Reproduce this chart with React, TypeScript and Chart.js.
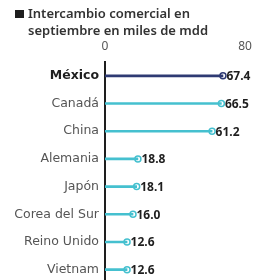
import React, { useEffect, useRef } from "react";
import { Chart, registerables } from "chart.js";

Chart.register(...registerables);

const countries = ["México", "Canadá", "China", "Alemania", "Japón", "Corea del Sur", "Reino Unido", "Vietnam"];
const values = [67.4, 66.5, 61.2, 18.8, 18.1, 16.0, 12.6, 12.6];
const axisTicks = [0, 80];
const titleLines = ["Intercambio comercial en", "septiembre en miles de mdd"];

const NAVY = "#2e3a73";
const CYAN = "#45c0cf";
const FONT = "'Noto Sans', sans-serif";
const LABEL_FONT = "'DejaVu Sans', sans-serif";

const valueLabels = {
  id: "valueLabels",
  afterDatasetsDraw(chart: any) {
    const meta = chart.getDatasetMeta(1);
    const ctx = chart.ctx;
    ctx.save();
    ctx.font = `bold 12px ${FONT}`;
    ctx.fillStyle = "#1e1e1e";
    ctx.textAlign = "left";
    ctx.textBaseline = "middle";
    meta.data.forEach((pt: any, i: number) => {
      ctx.fillText(values[i].toFixed(1), pt.x + 3.5, pt.y + 1);
    });
    ctx.restore();
  },
};

export default function App() {
  const ref = useRef<HTMLCanvasElement>(null);
  useEffect(() => {
    document.body.style.margin = "0";
    const colors = countries.map((_, i) => (i === 0 ? NAVY : CYAN));
    const chart = new Chart(ref.current!, {
      type: "bar",
      data: {
        labels: countries,
        datasets: [
          {
            type: "bar",
            data: values,
            backgroundColor: colors,
            borderWidth: 0,
            barThickness: 2,
          } as any,
          {
            type: "line",
            data: values,
            showLine: false,
            pointRadius: 3,
            pointBorderWidth: 1.5,
            pointBackgroundColor: "#ffffff",
            pointBorderColor: colors,
            pointStyle: "circle",
          } as any,
        ],
      },
      options: {
        indexAxis: "y",
        animation: false,
        responsive: false,
        maintainAspectRatio: false,
        layout: { padding: { top: 39, right: 10, left: 0, bottom: 0 } },
        plugins: { legend: { display: false }, tooltip: { enabled: false } },
        scales: {
          x: {
            position: "top",
            min: 0,
            max: 80,
            afterBuildTicks: (s: any) => {
              s.ticks = axisTicks.map((v) => ({ value: v }));
            },
            afterFit: (s: any) => {
              s.height = 23;
              s.paddingLeft = 0;
              s.paddingRight = 0;
            },
            grid: { display: false, drawTicks: false },
            border: { display: false },
            ticks: {
              padding: 8,
              color: "#555",
              font: { family: FONT, size: 12 },
            },
          },
          y: {
            afterFit: (s: any) => {
              s.width = 105;
              s.paddingTop = 0;
              s.paddingBottom = 0;
            },
            grid: { display: false, drawTicks: false },
            border: { display: true, color: "#1e1e1e", width: 2 },
            ticks: {
              padding: 6,
              color: (c: any) => (c.index === 0 ? "#1e1e1e" : "#555"),
              font: (c: any) => ({
                family: LABEL_FONT,
                size: 12.5,
                weight: c.index === 0 ? "bold" : "normal",
              }),
            },
          },
        },
      },
      plugins: [valueLabels],
    } as any);
    return () => chart.destroy();
  }, []);

  return (
    <div style={{ position: "relative", width: 255, height: 289, overflow: "hidden", background: "#fff" }}>
      <canvas ref={ref} width={255} height={289} style={{ position: "absolute", left: 0, top: 0 }} />
      <div
        style={{
          position: "absolute",
          left: 15,
          top: 5,
          fontFamily: FONT,
          fontSize: 13,
          fontWeight: 600,
          color: "#333",
          lineHeight: "17px",
        }}
      >
        <div style={{ display: "flex", alignItems: "center" }}>
          <span style={{ display: "inline-block", width: 9, height: 8, background: "#1e1e1e", marginRight: 4 }} />
          <span>{titleLines[0]}</span>
        </div>
        <div style={{ paddingLeft: 13 }}>{titleLines[1]}</div>
      </div>
    </div>
  );
}
